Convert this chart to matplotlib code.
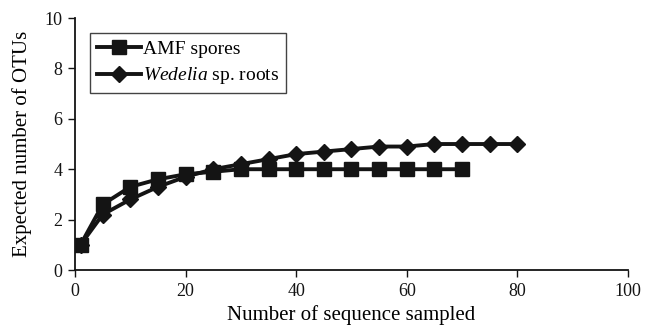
import matplotlib
matplotlib.use("Agg")
import matplotlib.pyplot as plt

amf_x = [1, 5, 10, 15, 20, 25, 30, 35, 40, 45, 50, 55, 60, 65, 70]
amf_y = [1, 2.6, 3.3, 3.6, 3.8, 3.9, 4.0, 4.0, 4.0, 4.0, 4.0, 4.0, 4.0, 4.0, 4.0]
wed_x = [1, 5, 10, 15, 20, 25, 30, 35, 40, 45, 50, 55, 60, 65, 70, 75, 80]
wed_y = [1, 2.2, 2.8, 3.3, 3.7, 4.0, 4.2, 4.4, 4.6, 4.7, 4.8, 4.9, 4.9, 5.0, 5.0, 5.0, 5.0]
xticks = [0, 20, 40, 60, 80, 100]
yticks = [0, 2, 4, 6, 8, 10]

plt.rcParams['font.family'] = ['Liberation Serif', 'DejaVu Serif']
plt.rcParams['mathtext.fontset'] = 'custom'
plt.rcParams['mathtext.rm'] = 'Liberation Serif'
plt.rcParams['mathtext.it'] = 'Liberation Serif:italic'
fig = plt.figure(figsize=(6.46, 3.32), dpi=100)
ax = fig.add_axes([0.1161, 0.1867, 0.856, 0.759])
c = '#141414'
ax.plot(amf_x, amf_y, marker='s', markersize=10, color=c, lw=2.8, label='AMF spores')
ax.plot(wed_x, wed_y, marker='D', markersize=8, color=c, lw=2.8, label='$\\it{Wedelia}$ sp. roots')
ax.set_xlim(0, 100)
ax.set_ylim(0, 10)
ax.set_xticks(xticks)
ax.set_yticks(yticks)
ax.spines['top'].set_visible(False)
ax.spines['right'].set_visible(False)
for s in ['left', 'bottom']:
    ax.spines[s].set_linewidth(1.3)
    ax.spines[s].set_color(c)
ax.tick_params(direction='out', length=5, width=1, labelsize=13, colors=c, pad=4)
ax.set_xlabel('Number of sequence sampled', fontsize=15, labelpad=4)
ax.set_ylabel('Expected number of OTUs', fontsize=15, labelpad=9)
leg = ax.legend(loc='upper left', bbox_to_anchor=(0.027, 0.94), fontsize=14, frameon=True,
                fancybox=False, edgecolor=c, handlelength=2.3, borderpad=0.35,
                labelspacing=0.4, handletextpad=0.1, borderaxespad=0)
leg.get_frame().set_linewidth(1.0)
fig.savefig('out.png', dpi=100)
